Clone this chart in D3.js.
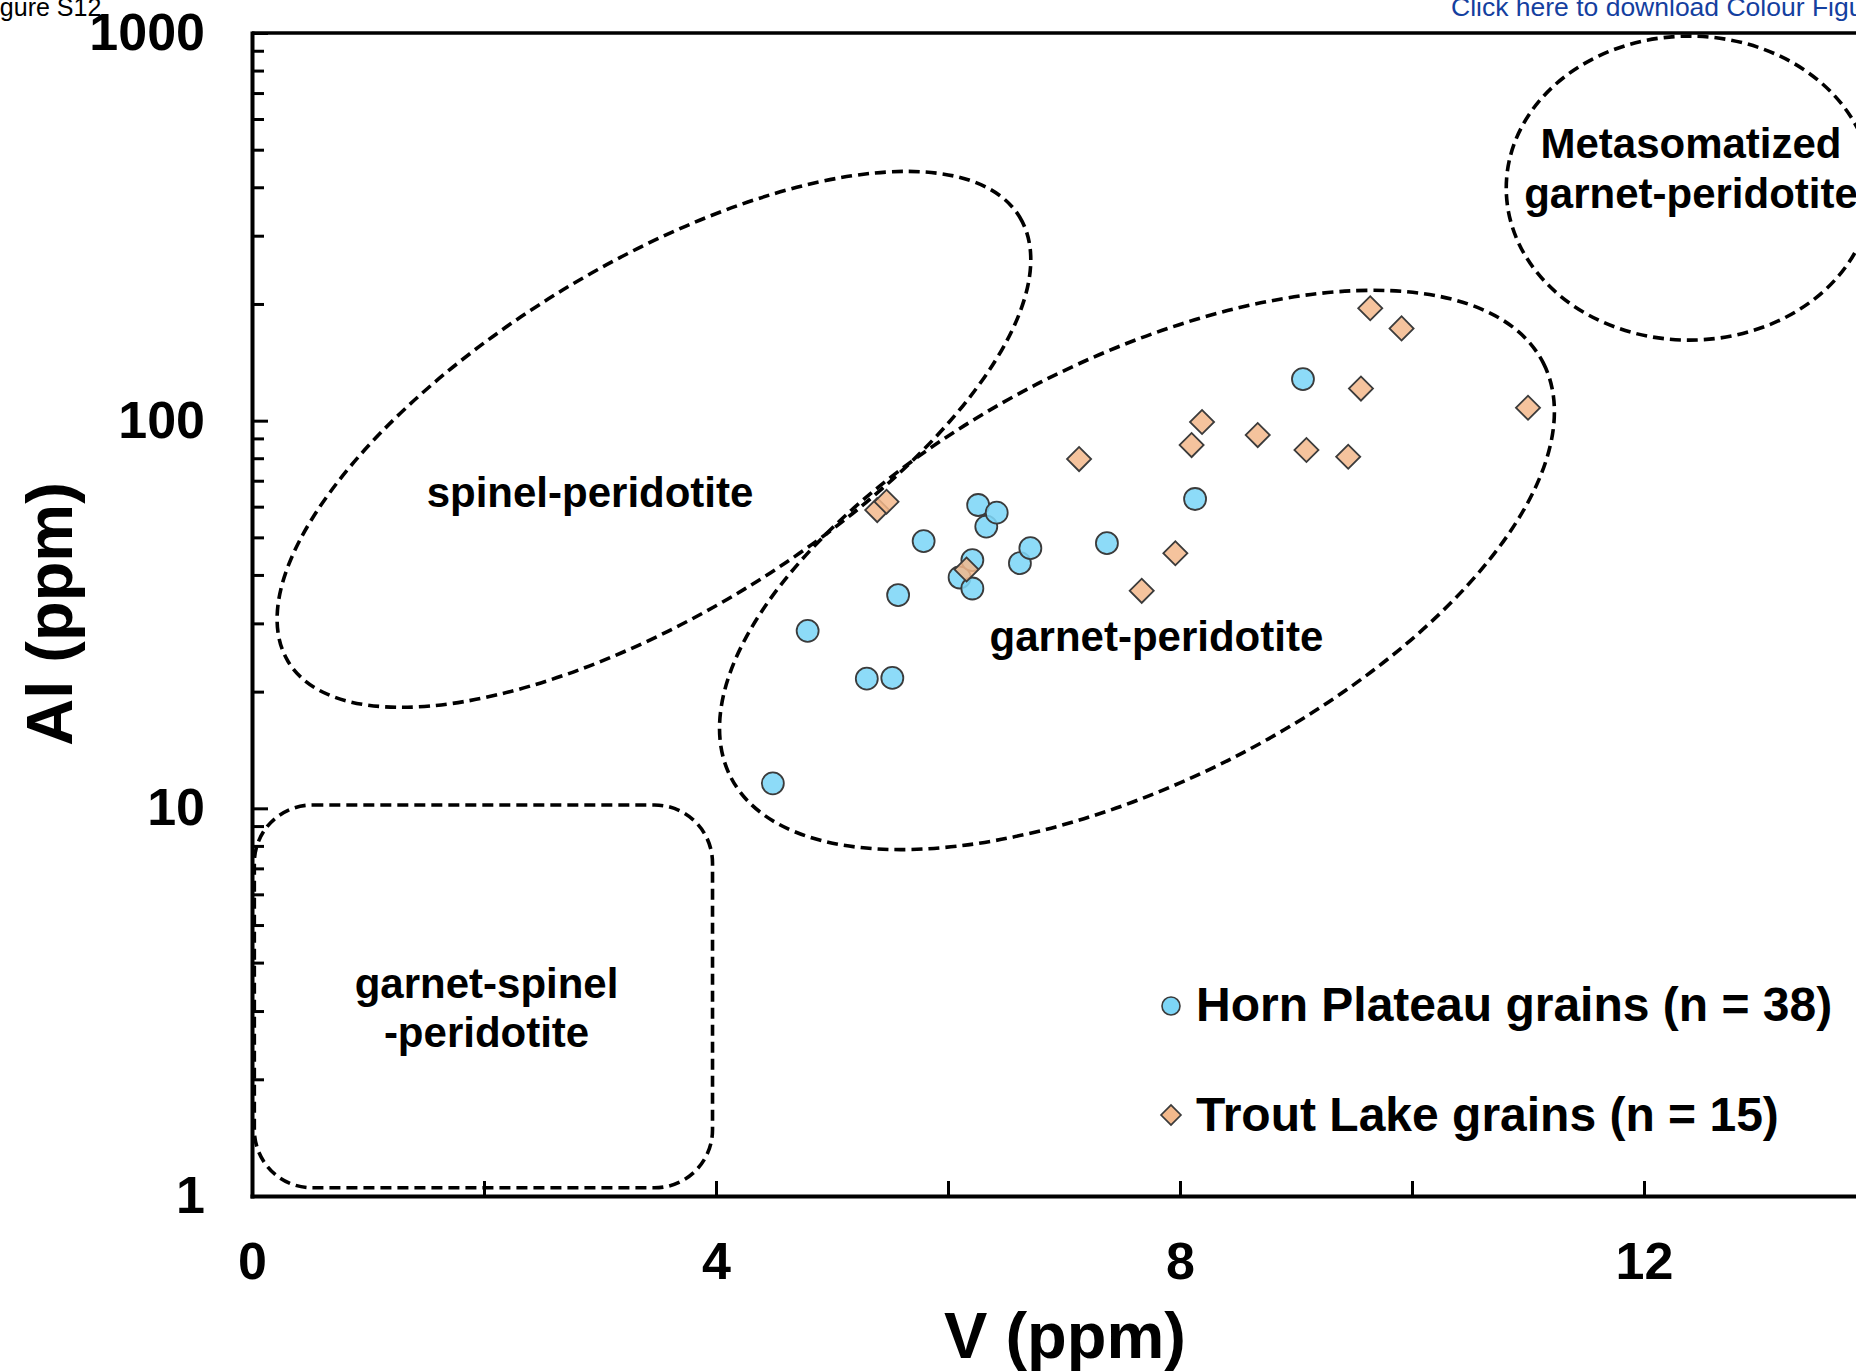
<!DOCTYPE html>
<html>
<head>
<meta charset="utf-8">
<script src="https://cdn.jsdelivr.net/npm/d3@7"></script>
<style>
  html, body { margin: 0; padding: 0; background: #fff; overflow: hidden; }
  svg { display: block; font-family: "Liberation Sans", Arial, Helvetica, sans-serif; }
</style>
</head>
<body>
<svg id="chart" width="1856" height="1371"></svg>
<script>
// ---- data: V (ppm) and Al (ppm) of olivine grains ----
const hornV  = [4.49, 4.79, 5.30, 5.52, 5.57, 5.79, 6.10, 6.21, 6.21, 6.26, 6.33, 6.42, 6.62, 6.71, 7.37, 8.13, 9.06];
const hornAl = [11.6, 28.7, 21.6, 21.7, 35.5, 48.9, 39.4, 43.7, 36.9, 60.6, 53.3, 57.9, 42.9, 46.9, 48.3, 62.8, 128];

const troutV  = [5.39, 5.47, 6.16, 7.13, 7.67, 7.96, 8.10, 8.19, 8.67, 9.09, 9.45, 9.56, 9.64, 9.91, 11.0];
const troutAl = [58.8, 61.8, 41.3, 79.6, 36.4, 45.5, 86.5, 99.2, 91.8, 84.0, 80.7, 121, 195, 173, 108];

const seriesNames = ["Horn Plateau grains (n = 38)", "Trout Lake grains (n = 15)"];

const xTicks = [0, 2, 4, 6, 8, 10, 12];
const xTickLabels = ["0", "", "4", "", "8", "", "12"];
const yMajorTicks = [1, 10, 100, 1000];
const yTickLabels = ["1", "10", "100", "1000"];

const xTitle = "V (ppm)";
const yTitle = "Al (ppm)";

// ---- layout ----
const svg = d3.select("#chart");
const x = d3.scaleLinear().domain([0, 14]).range([252, 1876]);
const y = d3.scaleLog().domain([1, 1000]).range([1196, 33]);

const FONT = '"Liberation Sans", Arial, Helvetica, sans-serif';
const dash = "11,6";

// page header texts
svg.append("text").attr("x", -21).attr("y", 16)
  .attr("font-size", 25).attr("fill", "#000").text("Figure S12");
svg.append("text").attr("x", 1451).attr("y", 16)
  .attr("font-size", 26.5).attr("fill", "#14409f").text("Click here to download Colour Figure");

// ---- field outlines (dashed) ----
const fields = svg.append("g").attr("fill", "none").attr("stroke", "#000")
  .attr("stroke-width", 3.6).attr("stroke-dasharray", dash);

// rotated ellipses: centre in data space, semi-axes in pixels
const ellipses = [
  { v: 3.465, al: 89.5, rx: 428, ry: 175, rot: -31.3 },  // spinel-peridotite
  { v: 7.629, al: 41.2, rx: 456, ry: 211, rot: -27.0 },  // garnet-peridotite
  { v: 12.39, al: 398,  rx: 183, ry: 152, rot: 0 }       // metasomatized garnet-peridotite
];
fields.selectAll("ellipse").data(ellipses).join("ellipse")
  .attr("cx", 0).attr("cy", 0)
  .attr("rx", d => d.rx).attr("ry", d => d.ry)
  .attr("transform", d => `translate(${x(d.v)},${y(d.al)}) rotate(${d.rot})`);

// rounded box for garnet-spinel-peridotite
const box = { v0: 0.02, v1: 3.97, al0: 1.05, al1: 10.2, r: 58 };
fields.append("rect")
  .attr("x", x(box.v0)).attr("y", y(box.al1))
  .attr("width", x(box.v1) - x(box.v0))
  .attr("height", y(box.al0) - y(box.al1))
  .attr("rx", box.r).attr("ry", box.r);

// field names
const fieldLabels = [
  { text: "spinel-peridotite", v: 2.914, al: 60.0 },
  { text: "garnet-peridotite", v: 7.797, al: 25.5 },
  { text: "garnet-spinel",     v: 2.022, al: 3.24 },
  { text: "-peridotite",       v: 2.022, al: 2.42 },
  { text: "Metasomatized",     v: 12.405, al: 477 },
  { text: "garnet-peridotite", v: 12.405, al: 353 }
];
svg.append("g").selectAll("text").data(fieldLabels).join("text")
  .attr("x", d => x(d.v)).attr("y", d => y(d.al))
  .attr("text-anchor", "middle")
  .attr("font-size", 42).attr("font-weight", "bold").attr("fill", "#000")
  .text(d => d.text);

// ---- axes ----
const yMinor = [];
[1, 10, 100].forEach(d => { for (let k = 2; k <= 9; k++) yMinor.push(k * d); });

const minorAxis = svg.append("g").attr("transform", `translate(${x(0)},0)`)
  .call(d3.axisLeft(y).tickValues(yMinor).tickSize(-12).tickFormat(""));
minorAxis.select(".domain").remove();
minorAxis.selectAll("line").attr("stroke", "#000").attr("stroke-width", 3);

const yAxis = svg.append("g").attr("transform", `translate(${x(0)},0)`)
  .call(d3.axisLeft(y).tickValues(yMajorTicks).tickSize(-16).tickSizeOuter(0)
    .tickPadding(47).tickFormat((d, i) => yTickLabels[i]));
yAxis.selectAll("line").attr("stroke", "#000").attr("stroke-width", 3);
yAxis.select(".domain").attr("stroke", "#000").attr("stroke-width", 4).attr("stroke-linecap", "square");
yAxis.selectAll("text").attr("font-family", FONT).attr("font-size", 52)
  .attr("font-weight", "bold").attr("fill", "#000");

const xAxis = svg.append("g").attr("transform", `translate(0,${y(1)})`)
  .call(d3.axisBottom(x).tickValues(xTicks).tickSize(-15).tickSizeOuter(0)
    .tickPadding(46).tickFormat((d, i) => xTickLabels[i]));
xAxis.selectAll("line").attr("stroke", "#000").attr("stroke-width", 3);
xAxis.select(".domain").attr("stroke", "#000").attr("stroke-width", 4).attr("stroke-linecap", "square");
xAxis.selectAll("text").attr("font-family", FONT).attr("font-size", 52)
  .attr("font-weight", "bold").attr("fill", "#000");

// top frame line
svg.append("line")
  .attr("x1", x(0)).attr("x2", x(14)).attr("y1", y(1000)).attr("y2", y(1000))
  .attr("stroke", "#000").attr("stroke-width", 3.6);

// axis titles
svg.append("text").attr("x", 1065).attr("y", 1358)
  .attr("text-anchor", "middle").attr("font-size", 65).attr("font-weight", "bold")
  .text(xTitle);
svg.append("text").attr("transform", "translate(72,614) rotate(-90)")
  .attr("text-anchor", "middle").attr("font-size", 65).attr("font-weight", "bold")
  .text(yTitle);

// ---- points ----
const blueFill = "#7dd6f7", orangeFill = "#f3b98c", markStroke = "#3b3b3b";
const hornPts = hornV.map((v, i) => ({ v, al: hornAl[i] }));
const troutPts = troutV.map((v, i) => ({ v, al: troutAl[i] }));

svg.append("g").selectAll("circle").data(hornPts).join("circle")
  .attr("cx", d => x(d.v)).attr("cy", d => y(d.al)).attr("r", 11)
  .attr("fill", blueFill).attr("fill-opacity", 0.88)
  .attr("stroke", markStroke).attr("stroke-width", 1.8);

const diamond = d3.symbol().type(d3.symbolSquare).size(290);
svg.append("g").selectAll("path").data(troutPts).join("path")
  .attr("d", diamond)
  .attr("transform", d => `translate(${x(d.v)},${y(d.al)}) rotate(45)`)
  .attr("fill", orangeFill).attr("fill-opacity", 0.85)
  .attr("stroke", markStroke).attr("stroke-width", 1.8);

// ---- legend ----
const legend = svg.append("g");
legend.append("circle").attr("cx", 1171).attr("cy", 1006).attr("r", 9)
  .attr("fill", blueFill).attr("stroke", markStroke).attr("stroke-width", 1.6);
legend.append("path").attr("d", d3.symbol().type(d3.symbolSquare).size(200))
  .attr("transform", "translate(1171,1115) rotate(45)")
  .attr("fill", orangeFill).attr("stroke", markStroke).attr("stroke-width", 1.6);
legend.selectAll("text").data(seriesNames).join("text")
  .attr("x", 1196).attr("y", (d, i) => 1021 + i * 110)
  .attr("font-size", 48).attr("font-weight", "bold").attr("fill", "#000")
  .text(d => d);
</script>
</body>
</html>
